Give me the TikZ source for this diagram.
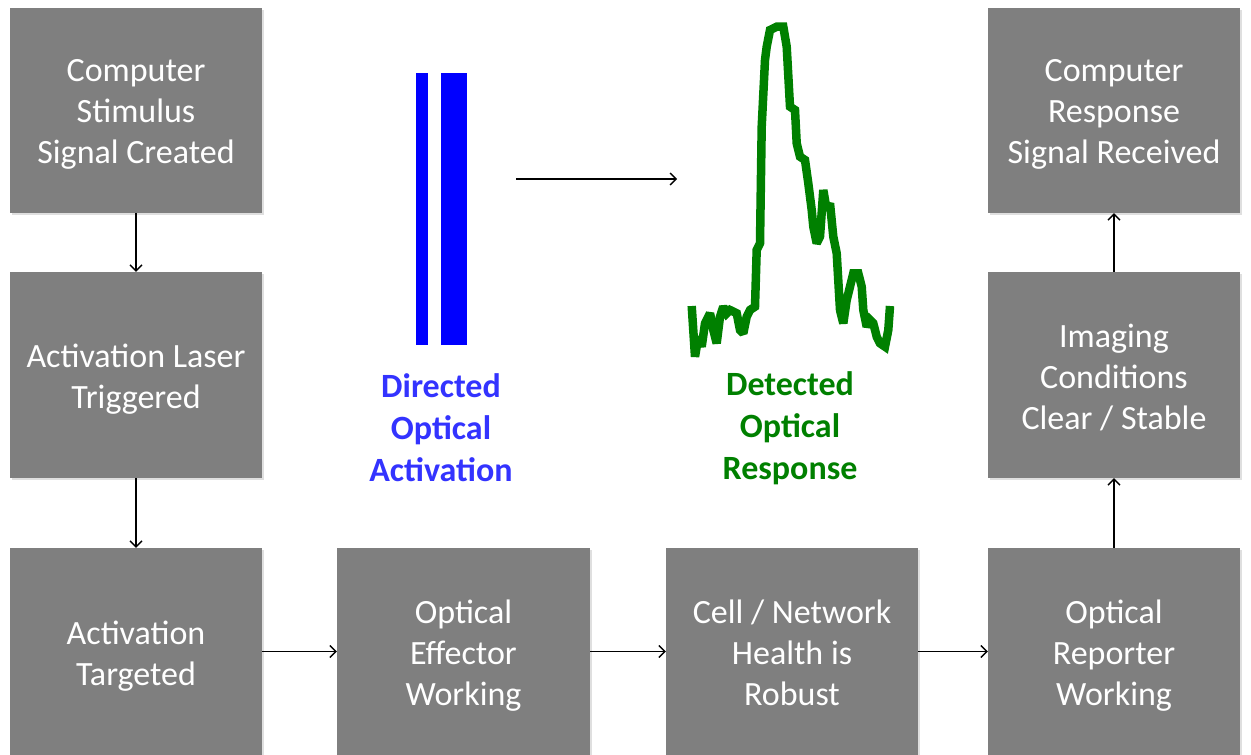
\documentclass[tikz,border=0pt]{standalone}
\usepackage{fontspec}
\setmainfont{Carlito}
\usetikzlibrary{arrows.meta,shadows}
\definecolor{boxgray}{RGB}{127,127,127}
\definecolor{barblue}{RGB}{0,0,255}
\definecolor{txtblue}{RGB}{51,51,255}
\definecolor{sigreen}{RGB}{0,128,0}
\begin{document}
\begin{tikzpicture}[x=1pt,y=-1pt,
  box/.style={fill=boxgray, draw=none, minimum width=252pt, inner sep=0pt,
    drop shadow={opacity=0.25, shadow xshift=2pt, shadow yshift=-2pt}},
  boxtext/.style={text=white, align=center, inner sep=0pt, yshift=-7.5pt,
    font=\fontsize{34}{41}\selectfont,
    execute at begin node=\strut, execute at end node=\strut},
  conn/.style={line width=1.3pt, -{Straight Barb[length=6pt,width=12pt,line width=1.3pt]}},
  lbl/.style={align=center, font=\bfseries\fontsize{34}{42}\selectfont}]
\useasboundingbox (0,0) rectangle (1251,755);
\node[box, minimum height=205pt] (b1) at (136,110.5) {};
\node[box, minimum height=206pt] (b2) at (136,375) {};
\node[box, minimum height=207pt] (b3) at (136,651.5) {};
\node[box, minimum height=207pt, minimum width=253pt] (b4) at (463.5,651.5) {};
\node[box, minimum height=207pt] (b5) at (792,651.5) {};
\node[box, minimum height=207pt] (b6) at (1114,651.5) {};
\node[box, minimum height=206pt] (b7) at (1114,375) {};
\node[box, minimum height=205pt] (b8) at (1114,110.5) {};
\node[boxtext] (l1) at (b1) {Computer\\Stimulus\\Signal Created};
\node[boxtext] (l2) at (b2) {Activation Laser\\Triggered};
\node[boxtext] (l3) at (b3) {Activation\\Targeted};
\node[boxtext] (l4) at (b4) {Optical\\Effector\\Working};
\node[boxtext] (l5) at (b5) {Cell / Network\\Health is\\Robust};
\node[boxtext] (l6) at (b6) {Optical\\Reporter\\Working};
\node[boxtext] (l7) at (b7) {Imaging\\Conditions\\Clear / Stable};
\node[boxtext] (l8) at (b8) {Computer\\Response\\Signal Received};
\draw[conn] (b1) -- (b2);
\draw[conn] (b2) -- (b3);
\draw[conn] (b3) -- (b4);
\draw[conn] (b4) -- (b5);
\draw[conn] (b5) -- (b6);
\draw[conn] (b6) -- (b7);
\draw[conn] (b7) -- (b8);
\coordinate (m1) at (516,179);
\coordinate (m2) at (677,179);
\draw[conn] (m1) -- (m2);
\fill[barblue] (416,73) rectangle (428,345);
\fill[barblue] (441,73) rectangle (467,345);
\node[lbl, text=txtblue] (t1) at (441,428) {Directed\\Optical\\Activation};
\node[lbl, text=sigreen] (t2) at (790,428) {Detected\\Optical\\Response};
\draw[sigreen, line width=8.5pt, line join=miter, miter limit=2]
 (691.7,306) -- (695,356.7) -- (698.3,336.7) -- (701.7,346.7) -- (705,323.3) -- (710,313.3)
 -- (713.3,330) -- (716.7,343.3) -- (720,316.7) -- (723.3,306.7) -- (726.7,313.3) -- (730,310)
 -- (736.7,313.3) -- (740,330) -- (743.3,333.3) -- (746.7,316.7) -- (750,310) -- (755,306.7)
 -- (756.7,250) -- (760,243.3) -- (761.7,126.7) -- (765,60) -- (766.7,46.7) -- (770,30)
 -- (776.7,26.7) -- (783.3,26.7) -- (786.7,46.7) -- (790,106.7) -- (795,110) -- (796.7,143.3)
 -- (800,156.7) -- (805,160) -- (808.3,183.3) -- (811.7,210) -- (813.3,226.7) -- (816.7,243.3)
 -- (820,236.7) -- (823.3,190) -- (826.7,210) -- (830,203.3) -- (833.3,236.7) -- (836.7,253.3)
 -- (840,310) -- (843.3,323.3) -- (846.7,300) -- (850,286.7) -- (853.3,273.3) -- (858.3,273.3)
 -- (861.7,286.7) -- (863.3,310) -- (866.7,326.7) -- (870,320) -- (873.3,323.3) -- (876.7,336.7)
 -- (880,343.3) -- (885,346.7) -- (888.3,330) -- (890,306);
\end{tikzpicture}
\end{document}
